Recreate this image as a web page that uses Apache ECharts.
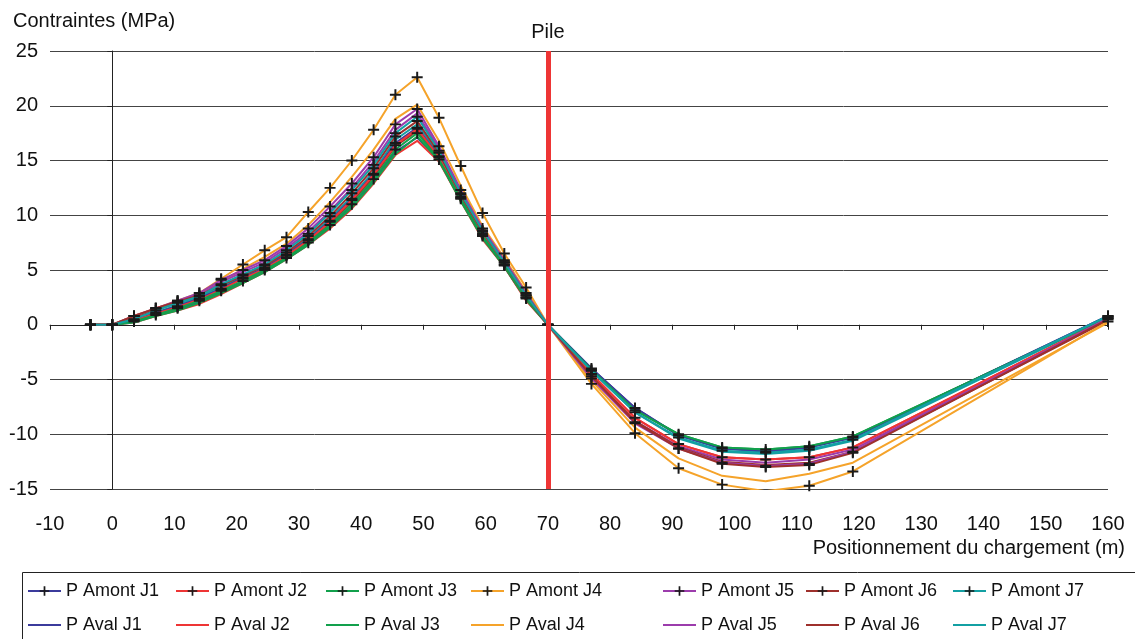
<!DOCTYPE html>
<html>
<head>
<meta charset="utf-8">
<script src="https://cdn.jsdelivr.net/npm/echarts@6/dist/echarts.min.js"></script>
<style>
  html, body { margin: 0; padding: 0; background: #fff; }
  #chart { width: 1135px; height: 639px; }
</style>
</head>
<body>
<div id="chart"></div>
<script>
var chartDom = document.getElementById('chart');
var myChart = echarts.init(chartDom);
var option;

// positions du chargement (m)
var positions = [-3.5, 0, 3.5, 7, 10.5, 14, 17.5, 21, 24.5, 28, 31.5, 35, 38.5, 42, 45.5, 49,
  52.5, 56, 59.5, 63, 66.5, 70, 77, 84, 91, 98, 105, 112, 119, 160];

var xTicks = { min: -10, max: 160, interval: 10 };
var yTicks = { min: -15, max: 25, interval: 5 };

var colors = ['#3b3b9c', '#ee3535', '#12a04c', '#f5a32a', '#9c3cac', '#9e302c', '#13a0a3'];

// contraintes (MPa)
var amontJ1 = [0, 0, 0.4, 1.1, 1.7, 2.4, 3.3, 4.3, 5.2, 6.4, 7.8, 9.5, 11.5, 13.8, 16.6, 18.0, 15.4, 11.7, 8.3, 5.5, 2.5, 0, -4.0, -7.6, -10.1, -11.3, -11.6, -11.2, -10.3, 0.8];
var amontJ2 = [0, 0, 0.4, 1.0, 1.6, 2.3, 3.2, 4.2, 5.1, 6.3, 7.7, 9.4, 11.4, 13.7, 16.4, 17.9, 15.3, 11.6, 8.2, 5.5, 2.5, 0, -4.5, -8.5, -10.9, -12.1, -12.3, -12.1, -11.2, 0.6];
var amontJ3 = [0, 0, 0.3, 0.9, 1.5, 2.2, 3.1, 4.0, 5.0, 6.1, 7.5, 9.1, 11.0, 13.3, 16.0, 17.5, 15.1, 11.5, 8.1, 5.4, 2.4, 0, -4.1, -7.8, -10.0, -11.2, -11.4, -11.1, -10.2, 0.7];
var amontJ4 = [0, 0, 0.8, 1.5, 2.2, 2.9, 4.2, 5.5, 6.8, 8.0, 10.3, 12.5, 15.0, 17.8, 21.0, 22.6, 18.9, 14.5, 10.2, 6.5, 3.4, 0, -5.4, -9.9, -13.1, -14.6, -15.2, -14.7, -13.4, 0.3];
var amontJ5 = [0, 0, 0.8, 1.5, 2.2, 2.9, 4.1, 5.0, 5.9, 7.2, 8.8, 10.8, 12.9, 15.3, 18.3, 19.7, 16.3, 12.3, 8.8, 5.9, 2.9, 0, -4.9, -9.0, -11.3, -12.6, -12.9, -12.7, -11.6, 0.6];
var amontJ6 = [0, 0, 0.8, 1.5, 2.1, 2.7, 3.6, 4.5, 5.4, 6.6, 8.1, 9.9, 12.0, 14.3, 17.2, 18.6, 15.7, 11.9, 8.5, 5.7, 2.7, 0, -4.7, -8.9, -11.3, -12.7, -13.0, -12.8, -11.7, 0.5];
var amontJ7 = [0, 0, 0.5, 1.3, 2.0, 2.6, 3.7, 4.6, 5.5, 6.8, 8.3, 10.2, 12.3, 14.6, 17.5, 19.0, 15.9, 12.0, 8.6, 5.7, 2.7, 0, -4.2, -8.0, -10.3, -11.5, -11.7, -11.4, -10.5, 0.8];

var avalJ1 = [0, 0, 0.3, 0.9, 1.4, 2.1, 3.0, 3.9, 4.9, 6.1, 7.4, 9.0, 10.9, 13.2, 15.8, 17.1, 15.0, 11.4, 8.0, 5.3, 2.3, 0, -4.0, -7.6, -10.1, -11.3, -11.5, -11.2, -10.3, 0.8];
var avalJ2 = [0, 0, 0.2, 0.8, 1.3, 1.9, 2.8, 3.8, 4.8, 6.0, 7.3, 8.8, 10.6, 12.9, 15.5, 16.8, 14.9, 11.3, 7.8, 5.3, 2.2, 0, -4.5, -8.5, -10.9, -12.1, -12.3, -12.1, -11.2, 0.6];
var avalJ3 = [0, 0, 0.2, 0.8, 1.3, 2.0, 2.9, 3.8, 4.8, 6.0, 7.3, 8.9, 10.7, 13.0, 15.6, 17.2, 15.0, 11.3, 7.9, 5.3, 2.3, 0, -4.1, -7.8, -10.0, -11.2, -11.4, -11.1, -10.2, 0.7];
var avalJ4 = [0, 0, 0.6, 1.3, 2.0, 2.8, 3.9, 5.1, 6.2, 7.4, 9.1, 11.2, 13.5, 16.0, 18.8, 20.1, 16.8, 12.7, 9.0, 6.1, 3.0, 0, -5.1, -9.4, -12.2, -13.8, -14.3, -13.6, -12.6, 0.2];
var avalJ5 = [0, 0, 0.6, 1.4, 2.1, 2.7, 3.9, 4.8, 5.7, 7.0, 8.5, 10.4, 12.5, 14.9, 17.8, 19.3, 16.1, 12.2, 8.7, 5.8, 2.8, 0, -4.8, -8.8, -11.1, -12.3, -12.6, -12.3, -11.4, 0.5];
var avalJ6 = [0, 0, 0.7, 1.4, 2.0, 2.6, 3.4, 4.3, 5.1, 6.2, 7.6, 9.3, 11.2, 13.5, 16.3, 17.7, 15.2, 11.6, 8.2, 5.4, 2.4, 0, -4.7, -8.8, -11.2, -12.5, -12.8, -12.6, -11.6, 0.4];
var avalJ7 = [0, 0, 0.3, 1.1, 1.8, 2.5, 3.5, 4.4, 5.3, 6.5, 7.9, 9.7, 11.7, 14.0, 16.9, 18.3, 15.6, 11.8, 8.4, 5.6, 2.6, 0, -4.2, -8.0, -10.4, -11.6, -11.8, -11.5, -10.6, 0.7];

var amont = [amontJ1, amontJ2, amontJ3, amontJ4, amontJ5, amontJ6, amontJ7];
var aval = [avalJ1, avalJ2, avalJ3, avalJ4, avalJ5, avalJ6, avalJ7];
var pilePos = 70;
// point de J4 amont sans marqueur sur l'original (105 m)
var noMarker = { 3: [26] };

var plus = 'path://M0,4.1H10V5.9H0Z M4.1,0H5.9V10H4.1Z';
var font = 'Liberation Sans, Arial, sans-serif';

function pairs(vals, hidden) {
  return vals.map(function (v, i) {
    if (hidden && hidden.indexOf(i) >= 0) {
      return { value: [positions[i], v], symbol: 'none' };
    }
    return [positions[i], v];
  });
}

var series = [];
var legends = [];
var legendLeft = [27, 175, 325, 470, 662, 805, 952];

for (var j = 0; j < 7; j++) {
  var nAm = 'P Amont J' + (j + 1);
  var nAv = 'P Aval J' + (j + 1);
  series.push({
    name: nAm,
    type: 'line',
    data: pairs(amont[j], noMarker[j]),
    symbol: plus,
    symbolSize: 11,
    itemStyle: { color: '#1a1a1a' },
    lineStyle: { color: colors[j], width: 2 },
    z: 3
  });
  legends.push({
    data: [nAm, { name: nAv, itemStyle: { opacity: 0 } }],
    orient: 'vertical',
    left: legendLeft[j],
    top: 581,
    height: 58,
    padding: 0,
    itemGap: 14,
    itemWidth: 33,
    itemHeight: 12,
    textStyle: { fontSize: 18, fontFamily: font, color: '#111', lineHeight: 20 },
    selectedMode: false
  });
}
for (var k = 0; k < 7; k++) {
  series.push({
    name: 'P Aval J' + (k + 1),
    type: 'line',
    data: pairs(aval[k]),
    symbol: 'none',
    itemStyle: { color: colors[k] },
    lineStyle: { color: colors[k], width: 2 },
    z: 2
  });
}

series[0].markLine = {
  silent: true,
  symbol: 'none',
  animation: false,
  lineStyle: { color: '#ee3535', width: 5, type: 'solid' },
  label: { show: true, position: 'end', formatter: 'Pile', fontSize: 20, fontFamily: font, color: '#111', distance: 9 },
  data: [{ xAxis: pilePos }]
};

option = {
  animation: false,
  grid: { left: 50, right: 27, top: 51, bottom: 150, containLabel: false },
  legend: legends,
  xAxis: [
    {
      type: 'value', min: xTicks.min, max: xTicks.max, interval: xTicks.interval,
      position: 'bottom',
      axisLine: { show: false, onZero: false },
      axisTick: { show: false },
      splitLine: { show: false },
      axisLabel: { fontSize: 20, fontFamily: font, color: '#111', margin: 25 }
    },
    {
      type: 'value', min: xTicks.min, max: xTicks.max, interval: xTicks.interval,
      position: 'bottom',
      axisLine: { show: true, onZero: true, lineStyle: { color: '#222', width: 1 } },
      axisTick: { show: true, length: 5, lineStyle: { color: '#222' } },
      splitLine: { show: false },
      axisLabel: { show: false }
    }
  ],
  yAxis: [
    {
      type: 'value', min: yTicks.min, max: yTicks.max, interval: yTicks.interval,
      position: 'left',
      axisLine: { show: false, onZero: false },
      axisTick: { show: false },
      splitLine: { show: true, lineStyle: { color: '#444', width: 1 } },
      axisLabel: { fontSize: 20, fontFamily: font, color: '#111', margin: 12 }
    },
    {
      type: 'value', min: yTicks.min, max: yTicks.max, interval: yTicks.interval,
      position: 'left',
      axisLine: { show: true, onZero: true, lineStyle: { color: '#222', width: 1 } },
      axisTick: { show: true, length: 5, lineStyle: { color: '#222' } },
      splitLine: { show: false },
      axisLabel: { show: false }
    }
  ],
  graphic: [
    { type: 'text', left: 13, top: 11, style: { text: 'Contraintes (MPa)', fontSize: 20, fontFamily: font, fill: '#111' } },
    { type: 'text', right: 10, top: 538, style: { text: 'Positionnement du chargement (m)', fontSize: 20, fontFamily: font, fill: '#111' } },
    { type: 'rect', left: 20, top: 570, shape: { width: 1130, height: 80 }, style: { fill: 'none', stroke: '#222', lineWidth: 1 }, z: -1 }
  ],
  series: series
};

option && myChart.setOption(option);
</script>
</body>
</html>
